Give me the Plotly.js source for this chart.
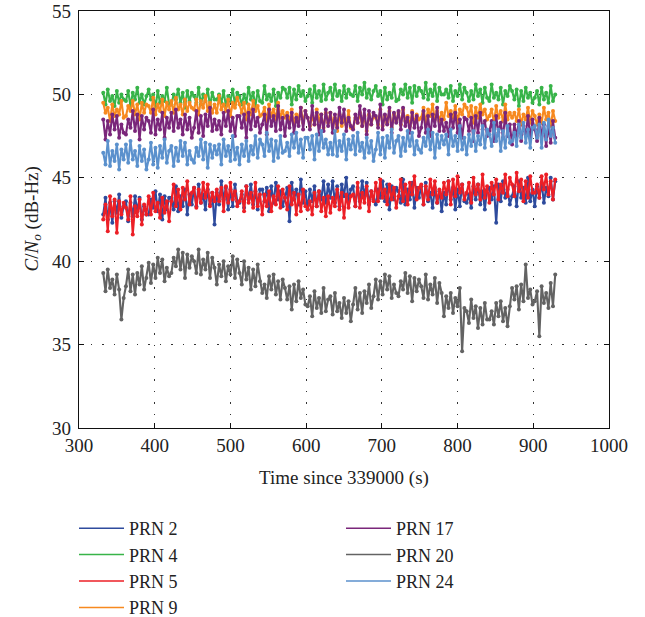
<!DOCTYPE html>
<html>
<head>
<meta charset="utf-8">
<script src="https://cdn.plot.ly/plotly-3.0.1.min.js"></script>
<style>html,body{margin:0;padding:0;background:#fff;}#chart{width:645px;height:617px;}</style>
</head>
<body>
<div id="chart"></div>
<script>
// Time since 339000 (s), sampled every 3 s
var time = [332,335,338,341,344,347,350,353,356,359,
362,365,368,371,374,377,380,383,386,389,
392,395,398,401,404,407,410,413,416,419,
422,425,428,431,434,437,440,443,446,449,
452,455,458,461,464,467,470,473,476,479,
482,485,488,491,494,497,500,503,506,509,
512,515,518,521,524,527,530,533,536,539,
542,545,548,551,554,557,560,563,566,569,
572,575,578,581,584,587,590,593,596,599,
602,605,608,611,614,617,620,623,626,629,
632,635,638,641,644,647,650,653,656,659,
662,665,668,671,674,677,680,683,686,689,
692,695,698,701,704,707,710,713,716,719,
722,725,728,731,734,737,740,743,746,749,
752,755,758,761,764,767,770,773,776,779,
782,785,788,791,794,797,800,803,806,809,
812,815,818,821,824,827,830,833,836,839,
842,845,848,851,854,857,860,863,866,869,
872,875,878,881,884,887,890,893,896,899,
902,905,908,911,914,917,920,923,926,929];

var prn2 = [42.8,43.8,42.5,43.5,42.3,43.6,42.9,44.0,42.6,43.3,
43.6,42.4,43.5,42.7,43.9,43.0,43.8,42.5,43.3,42.8,
42.8,43.7,43.2,44.2,43.0,44.0,42.5,43.9,43.1,43.8,
43.8,43.1,44.5,43.0,43.9,43.3,44.3,42.8,44.0,43.4,
44.4,43.3,44.6,43.5,44.0,43.1,44.3,43.4,44.1,42.2,
44.1,43.4,44.8,43.7,44.4,43.1,44.3,43.3,44.6,43.6,
43.5,44.0,43.2,44.5,43.7,44.6,43.4,44.2,43.1,44.3,
44.3,43.6,44.4,43.0,44.5,43.5,44.7,43.7,44.2,43.3,
43.8,44.4,42.4,44.7,43.7,44.3,43.4,44.9,43.5,44.2,
43.1,44.3,43.6,44.5,43.3,44.2,43.7,44.8,43.5,44.6,
43.8,44.8,43.5,44.5,43.3,44.6,43.9,45.0,43.6,44.3,
44.5,43.3,44.4,43.6,44.8,43.9,44.7,43.4,44.2,43.7,
43.4,44.3,43.8,44.8,43.6,44.6,43.1,44.5,43.7,44.4,
44.2,43.5,44.9,43.4,44.3,43.7,44.7,43.2,44.4,43.8,
44.5,43.4,44.7,43.6,44.1,43.2,44.4,43.5,44.2,43.0,
44.1,43.4,44.8,43.7,44.4,43.1,44.3,43.3,44.6,43.6,
43.5,44.0,43.2,44.5,43.7,44.6,43.4,44.2,43.1,44.3,
44.4,43.7,44.5,42.3,44.6,43.6,44.8,43.8,44.3,43.4,
43.9,44.5,43.3,44.8,43.8,44.4,43.5,45.0,43.6,44.3,
43.3,44.5,43.8,44.7,43.5,44.4,43.9,45.0,43.7,44.8];

var prn4 = [50.1,49.4,50.3,49.6,49.9,49.3,50.2,49.5,50.0,49.7,
49.6,50.2,49.3,50.1,49.7,50.4,49.5,50.0,49.4,49.9,
50.3,49.7,50.0,49.2,50.2,49.5,49.9,49.6,50.4,49.4,
49.4,50.0,49.7,50.3,49.5,50.1,49.2,50.2,49.6,50.1,
49.9,49.5,50.4,49.4,50.0,49.6,50.3,49.3,50.1,49.7,
49.7,50.0,49.5,50.2,49.3,49.9,49.6,50.3,49.4,50.1,
49.9,49.4,50.0,49.5,50.4,49.7,50.1,49.3,50.2,49.6,
49.5,50.5,49.7,50.0,49.6,50.3,49.3,50.1,49.8,50.4,
50.3,49.8,50.4,49.4,50.3,49.7,50.5,49.9,50.2,49.6,
49.9,50.3,49.5,50.5,49.8,50.2,49.6,50.6,49.7,50.1,
50.4,49.7,50.6,49.9,50.2,49.6,50.5,49.8,50.3,50.0,
49.9,50.5,49.6,50.4,50.0,50.7,49.8,50.3,49.7,50.2,
50.5,49.9,50.2,49.4,50.4,49.7,50.1,49.8,50.6,49.6,
49.7,50.3,50.0,50.6,49.8,50.4,49.5,50.5,49.9,50.4,
50.2,49.8,50.7,49.7,50.3,49.9,50.6,49.6,50.4,50.0,
50.0,50.3,49.8,50.5,49.6,50.2,49.9,50.6,49.7,50.4,
50.1,49.6,50.2,49.7,50.6,49.9,50.3,49.5,50.4,49.8,
49.6,50.6,49.8,50.1,49.7,50.4,49.4,50.2,49.9,50.5,
50.2,49.7,50.3,49.3,50.2,49.6,50.4,49.8,50.1,49.5,
49.8,50.2,49.4,50.4,49.7,50.1,49.5,50.5,49.6,50.0];

var prn5 = [42.5,43.4,41.8,43.9,42.7,43.7,41.7,43.6,42.8,43.5,
43.2,42.5,43.9,41.6,43.3,42.7,43.7,42.2,43.4,42.8,
43.9,42.8,44.1,43.0,43.5,42.6,43.8,42.9,43.6,42.4,
43.6,44.6,43.3,44.3,43.1,44.4,43.7,44.8,43.4,44.1,
44.4,43.2,44.3,43.5,44.7,43.8,44.6,43.3,44.1,43.6,
44.3,43.6,44.4,43.0,44.5,43.5,44.7,43.7,44.2,43.3,
43.6,44.2,43.0,44.5,43.5,44.1,43.2,44.7,43.3,44.0,
42.8,44.0,43.3,44.2,43.0,43.9,43.4,44.5,43.2,44.3,
43.8,43.1,44.5,43.4,44.1,42.8,44.0,43.0,44.3,43.3,
43.1,43.6,42.8,44.1,43.3,44.2,43.0,43.8,42.7,43.9,
42.9,43.8,43.3,44.3,43.1,44.1,42.6,44.0,43.2,43.9,
44.0,43.3,44.7,43.2,44.1,43.5,44.5,43.0,44.2,43.6,
44.7,43.6,44.9,43.8,44.3,43.4,44.6,43.7,44.4,43.2,
43.9,44.9,43.6,44.6,43.4,44.7,44.0,45.1,43.7,44.4,
44.6,43.4,44.5,43.7,44.9,44.0,44.8,43.5,44.3,43.8,
44.7,44.0,44.8,43.4,44.9,43.9,45.1,44.1,44.6,43.7,
44.1,44.7,43.5,45.0,44.0,44.6,43.7,45.2,43.8,44.5,
43.5,44.7,44.0,44.9,43.7,44.6,44.1,45.2,43.9,45.0,
44.6,43.9,45.3,44.2,44.9,43.6,44.8,43.8,45.1,44.1,
44.1,44.6,43.8,45.1,44.3,45.2,44.0,44.8,43.7,44.9];

var prn9 = [49.5,48.9,49.2,48.4,49.4,48.7,49.1,48.8,49.6,48.6,
48.7,49.3,49.0,49.6,48.8,49.4,48.5,49.5,48.9,49.4,
49.3,48.9,49.8,48.8,49.4,49.0,49.7,48.7,49.5,49.1,
49.6,48.9,49.8,49.1,49.4,48.8,49.7,49.0,49.5,49.2,
49.1,49.7,48.8,49.6,49.2,49.9,49.0,49.5,48.9,49.4,
48.9,49.9,49.1,49.4,49.0,49.7,48.7,49.5,49.2,49.8,
49.4,48.9,49.5,48.5,49.4,48.8,49.6,49.0,49.3,48.7,
48.8,49.2,48.4,49.4,48.7,49.1,48.5,49.5,48.6,49.0,
48.6,48.9,48.4,49.1,48.2,48.8,48.5,49.2,48.3,49.0,
48.6,48.1,48.7,48.2,49.1,48.4,48.8,48.0,48.9,48.3,
48.9,48.3,48.6,47.8,48.8,48.1,48.5,48.2,49.0,48.0,
48.0,48.6,48.3,48.9,48.1,48.7,47.8,48.8,48.2,48.7,
48.6,48.2,49.1,48.1,48.7,48.3,49.0,48.0,48.8,48.4,
48.9,48.2,49.1,48.4,48.7,48.1,49.0,48.3,48.8,48.5,
48.6,49.2,48.3,49.1,48.7,49.4,48.5,49.0,48.4,48.9,
48.5,49.5,48.7,49.0,48.6,49.3,48.3,49.1,48.8,49.4,
49.2,48.7,49.3,48.3,49.2,48.6,49.4,48.8,49.1,48.5,
48.7,49.1,48.3,49.3,48.6,49.0,48.4,49.4,48.5,48.9,
48.6,48.9,48.4,49.1,48.2,48.8,48.5,49.2,48.3,49.0,
48.7,48.2,48.8,48.3,49.2,48.5,48.9,48.1,49.0,48.4];

var prn17 = [48.5,47.3,48.4,47.6,48.8,47.9,48.7,47.4,48.2,47.7,
47.6,48.5,48.0,49.0,47.8,48.8,47.3,48.7,47.9,48.6,
48.4,47.7,49.1,47.6,48.5,47.9,48.9,47.4,48.6,48.0,
48.9,47.8,49.1,48.0,48.5,47.6,48.8,47.9,48.6,47.4,
48.0,49.0,47.7,48.7,47.5,48.8,48.1,49.2,47.8,48.5,
47.9,48.4,47.6,48.9,48.1,49.0,47.8,48.6,47.5,48.7,
48.7,48.0,48.8,47.4,48.9,47.9,49.1,48.1,48.6,47.7,
48.2,48.8,47.6,49.1,48.1,48.7,47.8,49.3,47.9,48.6,
47.5,48.7,48.0,48.9,47.7,48.6,48.1,49.2,47.9,49.0,
48.6,47.9,49.3,48.2,48.9,47.6,48.8,47.8,49.1,48.1,
48.9,47.7,48.8,48.0,49.2,48.3,49.1,47.8,48.6,48.1,
47.9,48.8,48.3,49.3,48.1,49.1,47.6,49.0,48.2,48.9,
48.7,48.0,49.4,47.9,48.8,48.2,49.2,47.7,48.9,48.3,
49.0,47.9,49.2,48.1,48.6,47.7,48.9,48.0,48.7,47.5,
48.0,49.0,47.7,48.7,47.5,48.8,48.1,49.2,47.8,48.5,
47.8,48.3,47.5,48.8,48.0,48.9,47.7,48.5,47.4,48.6,
48.5,47.8,48.6,47.2,48.7,47.7,48.9,47.9,48.4,47.5,
47.8,48.4,47.2,48.7,47.7,48.3,47.4,48.9,47.5,48.2,
47.0,48.2,47.5,48.4,47.2,48.1,47.6,48.7,47.4,48.5,
47.9,47.2,48.6,47.5,48.2,46.9,48.1,47.1,48.4,47.4];

var prn20 = [39.3,38.2,39.5,38.4,38.9,38.0,39.2,38.3,36.5,37.8,
38.5,39.5,38.2,39.2,38.0,39.3,38.6,39.7,38.3,39.0,
39.9,38.7,39.8,39.0,40.2,39.3,40.1,38.8,39.6,39.1,
39.3,40.2,39.7,40.7,39.5,40.5,39.0,40.4,39.6,40.3,
40.0,39.3,40.7,39.2,40.1,39.5,40.5,39.0,40.2,39.6,
38.6,39.8,39.1,40.0,38.8,39.7,39.2,40.3,39.0,40.1,
39.3,38.6,40.0,38.9,39.6,38.3,39.5,38.5,39.8,38.8,
38.1,38.6,37.8,39.1,38.3,39.2,38.0,38.8,37.7,38.9,
38.4,37.7,38.5,37.1,38.6,37.6,38.8,37.8,38.3,37.4,
37.3,37.9,36.7,38.2,37.2,37.8,36.9,38.4,37.0,37.7,
37.9,36.8,38.1,37.0,37.5,36.6,37.8,36.9,37.6,36.4,
37.4,38.4,37.1,38.1,36.9,38.2,37.5,38.6,37.2,37.9,
38.9,37.7,38.8,38.0,39.2,38.3,39.1,37.8,38.6,38.1,
37.9,38.8,38.3,39.3,38.1,39.1,37.6,39.0,38.2,38.9,
38.5,37.8,39.2,37.7,38.6,38.0,39.0,37.5,38.7,38.1,
36.7,37.9,37.2,38.1,36.9,37.8,37.3,38.4,34.6,37.2,
37.0,36.3,37.7,36.6,37.3,36.0,37.2,36.2,37.5,36.5,
36.5,37.0,36.2,37.5,36.7,37.6,36.4,37.2,36.1,37.3,
38.4,37.7,38.5,37.1,38.6,37.6,39.8,37.8,38.3,37.4,
37.6,38.2,35.5,38.5,37.5,38.1,37.2,38.7,37.3,39.2];

var prn24 = [46.5,45.8,47.2,45.7,46.6,46.0,47.0,45.5,46.7,46.1,
47.0,45.9,47.2,46.1,46.6,45.7,46.9,46.0,46.7,45.5,
46.1,47.1,45.8,46.8,45.6,46.9,46.2,47.3,45.9,46.6,
46.9,45.7,46.8,46.0,47.2,46.3,47.1,45.8,46.6,46.1,
45.9,46.8,46.3,47.3,46.1,47.1,45.6,47.0,46.2,46.9,
46.4,47.0,45.8,47.3,46.3,46.9,46.0,47.5,46.1,46.8,
45.8,47.0,46.3,47.2,46.0,46.9,46.4,47.5,46.2,47.3,
47.0,46.3,47.7,46.6,47.3,46.0,47.2,46.2,47.5,46.5,
46.6,47.1,46.3,47.6,46.8,47.7,46.5,47.3,46.2,47.4,
47.4,46.7,47.5,46.1,47.6,46.6,47.8,46.8,47.3,46.4,
47.1,46.4,47.8,46.3,47.2,46.6,47.6,46.1,47.3,46.7,
47.5,46.4,47.7,46.6,47.1,46.2,47.4,46.5,47.2,46.0,
46.7,47.7,46.4,47.4,46.2,47.5,46.8,47.9,46.5,47.2,
47.5,46.3,47.4,46.6,47.8,46.9,47.7,46.4,47.2,46.7,
46.5,47.4,46.9,47.9,46.7,47.7,46.2,47.6,46.8,47.5,
47.0,47.6,46.4,47.9,46.9,47.5,46.6,48.1,46.7,47.4,
46.4,47.6,46.9,47.8,46.6,47.5,47.0,48.1,46.8,47.9,
47.6,46.9,48.3,47.2,47.9,46.6,47.8,46.8,48.1,47.1,
47.2,47.7,46.9,48.2,47.4,48.3,47.1,47.9,46.8,48.0,
48.1,47.4,48.2,46.8,48.3,47.3,48.5,47.5,48.0,47.1];

var names = ['PRN 2','PRN 4','PRN 5','PRN 9','PRN 17','PRN 20','PRN 24'];
var series = [prn2, prn4, prn5, prn9, prn17, prn20, prn24];
var colors = ['#2e4b9d','#38b449','#ec1f26','#f7891f','#7a267a','#636363','#5b91cd'];
var legendOf = ['legend','legend','legend','legend','legend2','legend2','legend2'];

var traces = [];
for (var k = 0; k < series.length; k++) {
  traces.push({
    x: time, y: series[k], type: 'scatter', mode: 'lines+markers',
    name: names[k], showlegend: false,
    line: {color: colors[k], width: 2.1},
    marker: {color: colors[k], size: 4}
  });
}
for (var k = 0; k < series.length; k++) {
  traces.push({
    x: [null], y: [null], type: 'scatter', mode: 'lines',
    name: names[k], legend: legendOf[k],
    line: {color: colors[k], width: 1.5}
  });
}

var fontFam = 'Liberation Serif, Times New Roman, serif';
var axisCommon = {
  showline: true, linecolor: '#111', linewidth: 1.3, mirror: 'ticks',
  ticks: 'inside', ticklen: 5, tickcolor: '#111', tickwidth: 1,
  showgrid: true, gridcolor: '#333', gridwidth: 1, griddash: '1.5px,10px',
  zeroline: false, automargin: false,
  tickfont: {family: fontFam, size: 19, color: '#222'}
};
var legendCommon = {
  xref: 'container', yref: 'container', xanchor: 'left', yanchor: 'top',
  font: {family: fontFam, size: 18, color: '#222'},
  bgcolor: 'rgba(0,0,0,0)', borderwidth: 0,
  itemwidth: 45, tracegroupgap: 0
};

var layout = {
  width: 645, height: 617,
  margin: {l: 79, r: 36, t: 11, b: 189, autoexpand: false},
  paper_bgcolor: '#fff', plot_bgcolor: '#fff',
  font: {family: fontFam, size: 19, color: '#222'},
  xaxis: Object.assign({}, axisCommon, {
    range: [300, 1000], dtick: 100, tick0: 300, tickangle: 0,
    title: {text: 'Time since 339000 (s)', font: {family: fontFam, size: 19, color: '#222'}, standoff: 15}
  }),
  yaxis: Object.assign({}, axisCommon, {
    range: [30, 55], dtick: 5, tick0: 30, ticklabelstandoff: 3
  }),
  annotations: [{
    text: '<i>C</i>/<i>N</i><sub><i>o</i></sub> (dB-Hz)',
    xref: 'paper', yref: 'paper', x: (32 - 79) / 530, y: 0.5,
    xanchor: 'center', yanchor: 'middle', textangle: -90, showarrow: false,
    font: {family: fontFam, size: 19, color: '#222'}
  }],
  legend: Object.assign({}, legendCommon, {x: 74/645, y: 1 - 510/617}),
  legend2: Object.assign({}, legendCommon, {x: 341/645, y: 1 - 510/617}),
  showlegend: true
};

Plotly.newPlot('chart', traces, layout, {displayModeBar: false, staticPlot: true});
</script>
</body>
</html>
